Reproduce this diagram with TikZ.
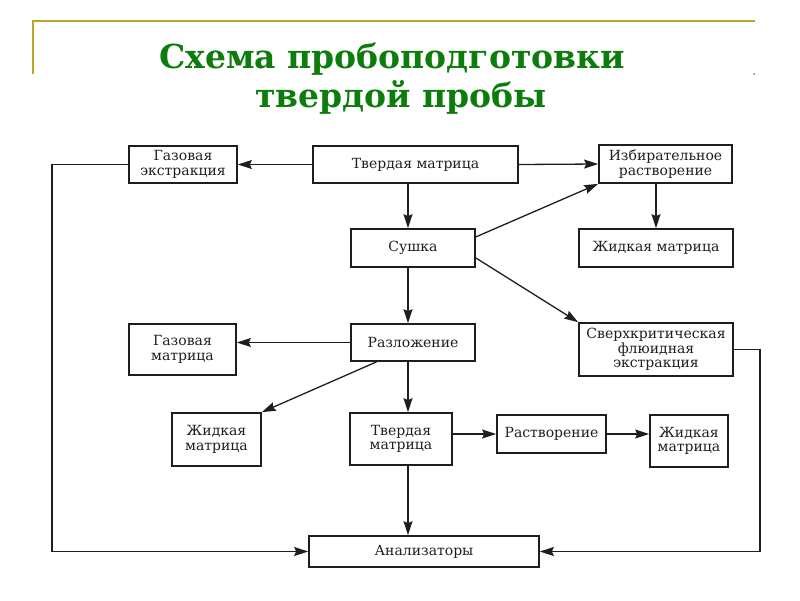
\documentclass[tikz,border=0pt]{standalone}
\usepackage{fontspec}
\setmainfont{DejaVu Serif}
\usetikzlibrary{arrows.meta}
\usetikzlibrary{calc}
\definecolor{gold}{RGB}{185,165,40}
\definecolor{titlegreen}{RGB}{12,125,12}
\definecolor{ink}{RGB}{30,30,30}
\tikzset{box/.style = {draw=ink, line width=1.7pt, align=center, inner sep=2pt,
                       text=ink, font=\fontsize{14}{14.5}\selectfont}}
\tikzset{arr/.style = {draw=ink, line width=1.3pt,
                       -{Stealth[length=14pt, width=9pt, inset=2pt]}}}
\tikzset{heading/.style = {anchor=base, text=titlegreen,
                           font=\bfseries\fontsize{33}{40}\selectfont}}

\begin{document}
\begin{tikzpicture}[x=1pt, y=-1pt]
      \useasboundingbox (0,0) rectangle (800,600);

      \draw [gold, line width=2pt] (33,74) -- (33,21) -- (755,21);
      \fill [gray] (754,74) circle (1);

      \node [heading] (title1) at (392,68) {Схема пробоподготовки};
      \node [heading] (title2) at (401,107) {твердой пробы};

      \node [box, minimum width=108, minimum height=37] (ge) at (183,164.5) {Газовая\\экстракция};
      \node [box, minimum width=205, minimum height=37] (tm1) at (415.5,164.5) {Твердая матрица};
      \node [box, minimum width=133, minimum height=38] (ir) at (665.5,164) {Избирательное\\растворение};

      \node [box, minimum width=124, minimum height=38] (su) at (413,248) {Сушка};
      \node [box, minimum width=154, minimum height=38] (jm1) at (656,248) {Жидкая матрица};

      \node [box, minimum width=107, minimum height=51] (gm) at (182.5,349.5) {Газовая\\матрица};
      \node [box, minimum width=124, minimum height=37] (rz) at (413,342.5) {Разложение};
      \node [box, minimum width=154, minimum height=53] (sfe) at (656,349.5) {Сверхкритическая\\флюидная\\экстракция};

      \node [box, minimum width=89, minimum height=53] (jm2) at (216.5,439.5) {Жидкая\\матрица};
      \node [box, minimum width=102, minimum height=52] (tm2) at (401,439) {Твердая\\матрица};
      \node [box, minimum width=109, minimum height=38] (ra) at (551.5,434) {Растворение};
      \node [box, minimum width=78, minimum height=52] (jm3) at (689,441) {Жидкая\\матрица};

      \node [box, minimum width=230, minimum height=31] (an) at (424,551.5) {Анализаторы};

      \coordinate (col) at (408,0);
      \coordinate (lft) at (52,0);
      \coordinate (rgt) at (760,0);

      \draw [arr] (tm1.west) -- (ge.east);
      \draw [arr] (tm1.east) -- (ir.west);
      \draw [arr] (tm1.south -| col) -- (su.north -| col);
      \draw [arr] (su.10) -- (ir.south west);
      \draw [arr] (ir.south -| jm1.north) -- (jm1.north);
      \draw [arr] (su.-9) -- (sfe.north west);
      \draw [arr] (su.south -| col) -- (rz.north -| col);

      \draw [arr] (rz.west) -- (rz.west -| gm.east);
      \draw [arr] ($(rz.south west)!0.21!(rz.south east)$) -- (jm2.north east);
      \draw [arr] (rz.south -| col) -- (tm2.north -| col);

      \draw [arr] (tm2.east |- ra.west) -- (ra.west);
      \draw [arr] (ra.east) -- (ra.east -| jm3.west);
      \draw [arr] (tm2.south -| col) -- (an.north -| col);

      \draw [arr] (ge.west) -- (ge.west -| lft) |- (an.west);
      \draw [arr] (sfe.east) -- (sfe.east -| rgt) |- (an.east);
    \end{tikzpicture}
\end{document}
